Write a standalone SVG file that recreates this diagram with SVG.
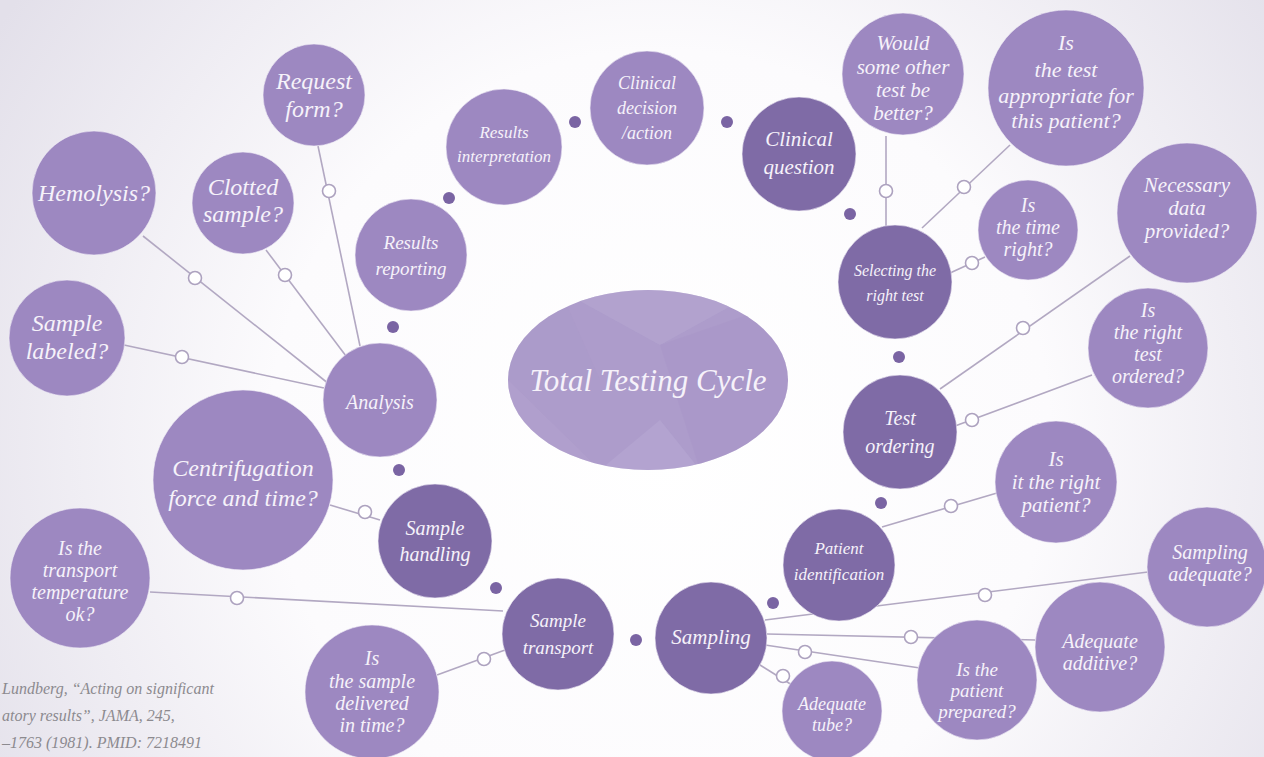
<svg xmlns="http://www.w3.org/2000/svg" width="1264" height="757" viewBox="0 0 1264 757">
<defs>
<radialGradient id="bg" cx="660" cy="440" r="780" gradientUnits="userSpaceOnUse">
<stop offset="0" stop-color="#ffffff"/>
<stop offset="0.5" stop-color="#fcfbfd"/>
<stop offset="1" stop-color="#e3e0ea"/>
</radialGradient>
<clipPath id="ellclip"><ellipse cx="648" cy="380" rx="140" ry="90"/></clipPath>
<style>
.l{fill:#9d88c1;stroke:#f4f0f8;stroke-width:1;stroke-opacity:0.6}
.d{fill:#7f6ba6;stroke:#f4f0f8;stroke-width:1;stroke-opacity:0.6}
.dot{fill:#7a64a3}
.c{stroke:#b2a8c2;stroke-width:1.6;fill:none}
.o{fill:#ffffff;stroke:#ada2bf;stroke-width:1.6}
text{font-family:"Liberation Serif","DejaVu Serif",serif;font-style:italic;fill:#f6f2fa;text-anchor:middle}
.cite{fill:#8c8a8f;text-anchor:start;font-size:16px}
</style>
</defs>
<rect width="1264" height="757" fill="url(#bg)"/>

<g id="connectors">
<line class="c" x1="318" y1="146" x2="360" y2="346"/>
<line class="c" x1="266" y1="250" x2="346" y2="356"/>
<line class="c" x1="143" y1="236" x2="329" y2="384"/>
<line class="c" x1="124" y1="345" x2="324" y2="388"/>
<line class="c" x1="330" y1="505" x2="380" y2="520"/>
<line class="c" x1="150" y1="592" x2="503" y2="611"/>
<line class="c" x1="437" y1="675" x2="505" y2="650"/>
<line class="c" x1="765" y1="620" x2="1148" y2="572"/>
<line class="c" x1="767" y1="634" x2="1035" y2="640"/>
<line class="c" x1="765" y1="645" x2="920" y2="668"/>
<line class="c" x1="752" y1="660" x2="800" y2="690"/>
<line class="c" x1="882" y1="527" x2="997" y2="493"/>
<line class="c" x1="955" y1="426" x2="1092" y2="375"/>
<line class="c" x1="940" y1="389" x2="1130" y2="256"/>
<line class="c" x1="950" y1="273" x2="985" y2="257"/>
<line class="c" x1="922" y1="228" x2="1010" y2="145"/>
<line class="c" x1="886" y1="136" x2="886" y2="226"/>
<circle class="o" cx="329" cy="191" r="6.5"/>
<circle class="o" cx="285" cy="275" r="6.5"/>
<circle class="o" cx="195" cy="278" r="6.5"/>
<circle class="o" cx="182" cy="357" r="6.5"/>
<circle class="o" cx="365" cy="512" r="6.5"/>
<circle class="o" cx="237" cy="598" r="6.5"/>
<circle class="o" cx="484" cy="659" r="6.5"/>
<circle class="o" cx="985" cy="595" r="6.5"/>
<circle class="o" cx="911" cy="637" r="6.5"/>
<circle class="o" cx="805" cy="652" r="6.5"/>
<circle class="o" cx="783" cy="676" r="6.5"/>
<circle class="o" cx="951" cy="506" r="6.5"/>
<circle class="o" cx="972" cy="420" r="6.5"/>
<circle class="o" cx="1023" cy="328" r="6.5"/>
<circle class="o" cx="972" cy="263" r="6.5"/>
<circle class="o" cx="964" cy="187" r="6.5"/>
<circle class="o" cx="886" cy="191" r="6.5"/>
</g>

<g id="cycle-dots">
<circle class="dot" cx="393" cy="327" r="6"/>
<circle class="dot" cx="399" cy="470" r="6"/>
<circle class="dot" cx="496" cy="588" r="6"/>
<circle class="dot" cx="636" cy="640" r="6"/>
<circle class="dot" cx="773" cy="603" r="6"/>
<circle class="dot" cx="881" cy="503" r="6"/>
<circle class="dot" cx="899" cy="357" r="6"/>
<circle class="dot" cx="850" cy="214" r="6"/>
<circle class="dot" cx="727" cy="122" r="6"/>
<circle class="dot" cx="575" cy="122" r="6"/>
<circle class="dot" cx="449" cy="198" r="6"/>
</g>

<g id="center">
<ellipse cx="648" cy="380" rx="140" ry="90" fill="#ad9ccb"/>
<g clip-path="url(#ellclip)">
<polygon points="560,290 760,290 660,345" fill="#b9aad3" opacity="0.45"/>
<polygon points="660,345 790,300 790,470 700,470" fill="#a593c6" opacity="0.35"/>
<polygon points="508,380 600,470 508,470" fill="#b6a6d1" opacity="0.35"/>
<polygon points="600,470 700,470 660,420" fill="#bcaed6" opacity="0.4"/>
<polygon points="508,290 560,290 600,380 508,380" fill="#a896c8" opacity="0.25"/>
</g>
<text x="648" y="391" font-size="31">Total Testing Cycle</text>
</g>

<g id="request-form"><circle class="l" cx="314" cy="95" r="51"/><text font-size="24"><tspan x="314" y="89">Request</tspan><tspan x="314" y="117">form?</tspan></text></g>
<g id="hemolysis"><circle class="l" cx="94" cy="193" r="62"/><text x="94" y="201" font-size="24">Hemolysis?</text></g>
<g id="clotted-sample"><circle class="l" cx="243" cy="203" r="51"/><text font-size="24"><tspan x="243" y="195">Clotted</tspan><tspan x="243" y="222">sample?</tspan></text></g>
<g id="results-reporting"><circle class="l" cx="411" cy="255" r="56"/><text font-size="19"><tspan x="411" y="249">Results</tspan><tspan x="411" y="275">reporting</tspan></text></g>
<g id="results-interpretation"><circle class="l" cx="504" cy="147" r="58"/><text font-size="17"><tspan x="504" y="138">Results</tspan><tspan x="504" y="162">interpretation</tspan></text></g>
<g id="clinical-decision"><circle class="l" cx="647" cy="108" r="57"/><text font-size="18"><tspan x="647" y="89">Clinical</tspan><tspan x="647" y="114">decision</tspan><tspan x="647" y="139">/action</tspan></text></g>
<g id="clinical-question"><circle class="d" cx="799" cy="154" r="57"/><text font-size="21"><tspan x="799" y="146">Clinical</tspan><tspan x="799" y="174">question</tspan></text></g>
<g id="other-test"><circle class="l" cx="903" cy="74" r="61"/><text font-size="21"><tspan x="903" y="50">Would</tspan><tspan x="903" y="74">some other</tspan><tspan x="903" y="97">test be</tspan><tspan x="903" y="120">better?</tspan></text></g>
<g id="test-appropriate"><circle class="l" cx="1066" cy="88" r="78"/><text font-size="22"><tspan x="1066" y="50">Is</tspan><tspan x="1066" y="77">the test</tspan><tspan x="1066" y="103">appropriate for</tspan><tspan x="1066" y="128">this patient?</tspan></text></g>
<g id="necessary-data"><circle class="l" cx="1187" cy="213" r="70"/><text font-size="21"><tspan x="1187" y="192">Necessary</tspan><tspan x="1187" y="215">data</tspan><tspan x="1187" y="238">provided?</tspan></text></g>
<g id="time-right"><circle class="l" cx="1028" cy="230" r="50"/><text font-size="20"><tspan x="1028" y="212">Is</tspan><tspan x="1028" y="234">the time</tspan><tspan x="1028" y="256">right?</tspan></text></g>
<g id="selecting-test"><circle class="d" cx="895" cy="282" r="57"/><text font-size="16"><tspan x="895" y="276">Selecting the</tspan><tspan x="895" y="301">right test</tspan></text></g>
<g id="right-test-ordered"><circle class="l" cx="1148" cy="348" r="60"/><text font-size="20"><tspan x="1148" y="317">Is</tspan><tspan x="1148" y="339">the right</tspan><tspan x="1148" y="361">test</tspan><tspan x="1148" y="383">ordered?</tspan></text></g>
<g id="test-ordering"><circle class="d" cx="900" cy="432" r="57"/><text font-size="20"><tspan x="900" y="425">Test</tspan><tspan x="900" y="453">ordering</tspan></text></g>
<g id="right-patient"><circle class="l" cx="1056" cy="482" r="61"/><text font-size="21"><tspan x="1056" y="466">Is</tspan><tspan x="1056" y="489">it the right</tspan><tspan x="1056" y="512">patient?</tspan></text></g>
<g id="patient-identification"><circle class="d" cx="839" cy="565" r="56"/><text font-size="17"><tspan x="839" y="554">Patient</tspan><tspan x="839" y="580">identification</tspan></text></g>
<g id="sampling-adequate"><circle class="l" cx="1207" cy="567" r="60"/><text font-size="20"><tspan x="1210" y="559">Sampling</tspan><tspan x="1210" y="581">adequate?</tspan></text></g>
<g id="sampling"><circle class="d" cx="711" cy="638" r="56"/><text x="711" y="644" font-size="21">Sampling</text></g>
<g id="adequate-additive"><circle class="l" cx="1100" cy="647" r="65"/><text font-size="20"><tspan x="1100" y="648">Adequate</tspan><tspan x="1100" y="670">additive?</tspan></text></g>
<g id="patient-prepared"><circle class="l" cx="977" cy="680" r="60"/><text font-size="19"><tspan x="977" y="676">Is the</tspan><tspan x="977" y="697">patient</tspan><tspan x="977" y="718">prepared?</tspan></text></g>
<g id="adequate-tube"><circle class="l" cx="832" cy="711" r="50"/><text font-size="18"><tspan x="832" y="710">Adequate</tspan><tspan x="832" y="731">tube?</tspan></text></g>
<g id="sample-delivered"><circle class="l" cx="372" cy="692" r="67"/><text font-size="20"><tspan x="372" y="665">Is</tspan><tspan x="372" y="688">the sample</tspan><tspan x="372" y="710">delivered</tspan><tspan x="372" y="732">in time?</tspan></text></g>
<g id="sample-transport"><circle class="d" cx="558" cy="634" r="56"/><text font-size="19"><tspan x="558" y="627">Sample</tspan><tspan x="558" y="654">transport</tspan></text></g>
<g id="sample-handling"><circle class="d" cx="435" cy="541" r="57"/><text font-size="20"><tspan x="435" y="535">Sample</tspan><tspan x="435" y="561">handling</tspan></text></g>
<g id="transport-temperature"><circle class="l" cx="80" cy="578" r="70"/><text font-size="20"><tspan x="80" y="555">Is the</tspan><tspan x="80" y="577">transport</tspan><tspan x="80" y="599">temperature</tspan><tspan x="80" y="621">ok?</tspan></text></g>
<g id="centrifugation"><circle class="l" cx="243" cy="480" r="90"/><text font-size="24"><tspan x="243" y="476">Centrifugation</tspan><tspan x="243" y="506">force and time?</tspan></text></g>
<g id="analysis"><circle class="l" cx="380" cy="400" r="57"/><text x="380" y="409" font-size="20">Analysis</text></g>
<g id="sample-labeled"><circle class="l" cx="67" cy="338" r="58"/><text font-size="24"><tspan x="67" y="331">Sample</tspan><tspan x="67" y="359">labeled?</tspan></text></g>

<g id="citation">
<text class="cite" x="2" y="694">Lundberg, “Acting on significant</text>
<text class="cite" x="2" y="721">atory results”, JAMA, 245,</text>
<text class="cite" x="2" y="748">–1763 (1981). PMID: 7218491</text>
</g>
</svg>
